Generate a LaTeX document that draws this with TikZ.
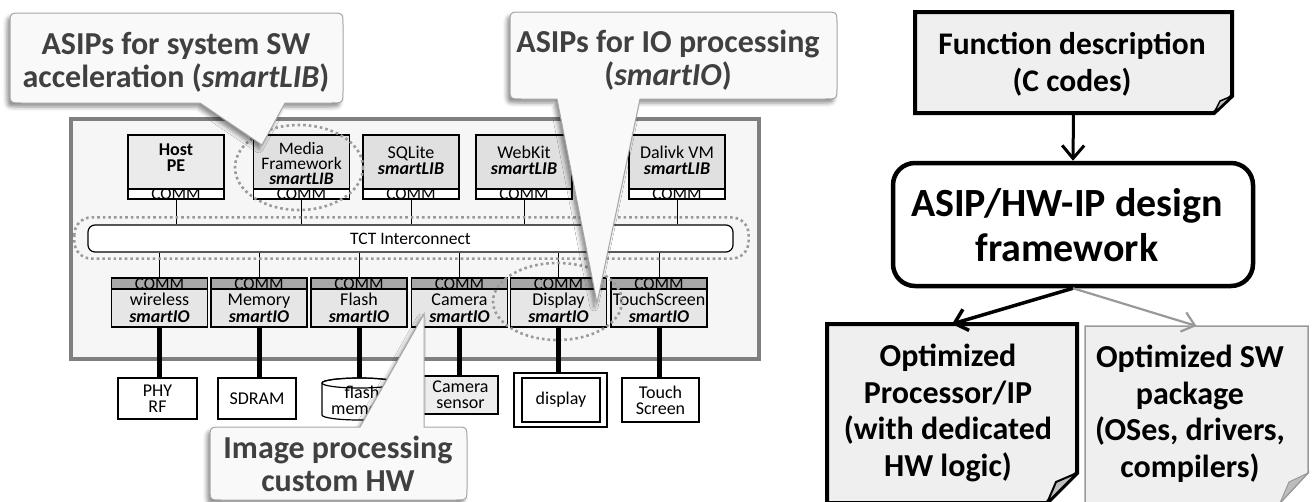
\documentclass[tikz,border=0pt]{standalone}
\usepackage{fontspec}
\setmainfont{Carlito}
\usetikzlibrary{arrows.meta,shadows.blur}
\definecolor{chipgray}{HTML}{7F7F7F}
\definecolor{chipfill}{HTML}{F6F6F6}
\definecolor{libfill}{HTML}{E0E0E0}
\definecolor{hostfill}{HTML}{EBEBEB}
\definecolor{iofill}{HTML}{E6E6E6}
\definecolor{commdark}{HTML}{A8A8A8}
\definecolor{dotgray}{HTML}{9A9A9A}
\definecolor{calltxt}{HTML}{404040}
\definecolor{callborder}{HTML}{A6A6A6}
\definecolor{callfill}{HTML}{F9F9F9}
\definecolor{notefill}{HTML}{EFEFEF}
\definecolor{foldfill}{HTML}{BDBDBD}
\definecolor{swgray}{HTML}{999999}
\newcommand\fntS{\fontsize{18}{16}\selectfont}
\newcommand\fntSB{\fontsize{18}{17}\selectfont}
\newcommand\fntC{\fontsize{17}{17}\selectfont}
\newcommand\fntIC{\fontsize{17.5}{17.5}\selectfont}
\newcommand\fntCall{\fontsize{32}{33}\selectfont\bfseries}
\newcommand\fntFunc{\fontsize{31.5}{37}\selectfont\bfseries}
\newcommand\fntAsip{\fontsize{40}{45}\selectfont\bfseries}
\newcommand\fntOpt{\fontsize{32}{36.5}\selectfont\bfseries}
\newcommand\bi[1]{\textbf{\textit{#1}}}
\begin{document}
\begin{tikzpicture}[x=1pt,y=-1pt,
  libbox/.style={draw, line width=1.2pt, fill=libfill, minimum width=96pt, minimum height=54pt, inner sep=0pt, outer sep=0pt},
  commw/.style={draw, line width=1.2pt, fill=white, minimum width=96pt, minimum height=10pt, inner sep=0pt, outer sep=0pt, label={[font=\fntC, inner sep=0pt, yshift=-0.5pt]center:COMM}},
  commd/.style={draw, line width=1.2pt, fill=commdark, minimum width=96pt, minimum height=11pt, inner sep=0pt, outer sep=0pt, label={[font=\fntC, inner sep=0pt, yshift=-0.5pt]center:COMM}},
  iobox/.style={draw, line width=1.2pt, fill=iofill, minimum width=96pt, minimum height=38pt, inner sep=0pt, outer sep=0pt, align=center, font=\fntSB},
  lbl/.style={align=center, font=\fntS, inner sep=0pt},
  dev/.style={draw, line width=1.2pt, fill=white, align=center, font=\fntS, inner sep=0pt, outer sep=0pt},
  wire/.style={line width=1pt},
  iolink/.style={line width=5pt},
  dotring/.style={draw=dotgray, line width=2.6pt, dash pattern=on 2.6pt off 3pt},
  callout/.style={draw=callborder, line width=1pt, fill=callfill, blur shadow={shadow xshift=-3pt, shadow yshift=-4pt, shadow blur radius=4pt, shadow opacity=45}},
  calltext/.style={align=center, text=calltxt, font=\fntCall, inner sep=0pt},
  notebox/.style={minimum width=#1, inner sep=0pt, outer sep=0pt},
  notetext/.style={align=center, inner sep=0pt}
]
\useasboundingbox (0,0) rectangle (1314,501);

% chip
\draw[line width=4pt, draw=chipgray, fill=chipfill] (71,119) rectangle (759,359);

% interconnect
\node[draw, line width=1.2pt, rounded corners=7pt, fill=white, minimum width=645pt, minimum height=27pt, inner sep=0pt, font=\fntIC] (ic) at (410.5,238.5) {TCT Interconnect};

% top boxes
\node[libbox, fill=hostfill] (hostB) at (176,162) {};
\node[commw] (hostC) at (176,194) {};
\node[lbl] (hostL) at (176,158) {\textbf{Host}\\\textbf{PE}};
\node[libbox] (medB) at (301.5,162) {};
\node[commw] (medC) at (301.5,194) {};
\node[lbl, font=\fontsize{17.5}{15}\selectfont] (medL) at (301.5,163.5) {Media\\Framework\\\bi{smartLIB}};
\node[libbox] (sqlB) at (411,162) {};
\node[commw] (sqlC) at (411,194) {};
\node[lbl] (sqlL) at (411,160) {SQLite\\\bi{smartLIB}};
\node[libbox] (webB) at (524,162) {};
\node[commw] (webC) at (524,194) {};
\node[lbl] (webL) at (524,160) {WebKit\\\bi{smartLIB}};
\node[libbox] (dalB) at (677,162) {};
\node[commw] (dalC) at (677,194) {};
\node[lbl] (dalL) at (677,160) {Dalivk VM\\\bi{smartLIB}};

\foreach \n in {hostC,medC,sqlC,webC,dalC}
  \draw[wire] (\n.south) -- (\n.south |- ic.north);

% io boxes
\node[commd] (wlC) at (159.5,283.5) {};
\node[iobox] (wlB) at (159.5,308) {wireless\\\bi{smartIO}};
\node[commd] (memC) at (259,283.5) {};
\node[iobox] (memB) at (259,308) {Memory\\\bi{smartIO}};
\node[commd] (flC) at (359,283.5) {};
\node[iobox] (flB) at (359,308) {Flash\\\bi{smartIO}};
\node[commd] (camC) at (459.5,283.5) {};
\node[iobox] (camB) at (459.5,308) {Camera\\\bi{smartIO}};
\node[commd] (dspC) at (558.5,283.5) {};
\node[iobox] (dspB) at (558.5,308) {Display\\\bi{smartIO}};
\node[commd] (tsC) at (659,283.5) {};
\node[iobox] (tsB) at (659,308) {TouchScreen\\\bi{smartIO}};

\foreach \n in {wlC,memC,flC,camC,dspC,tsC}
  \draw[wire] (ic.south -| \n.north) -- (\n.north);

% dotted rings
\draw[dotring, rounded corners=17pt] ([xshift=-13pt,yshift=7pt]ic.north west) rectangle ([xshift=15pt,yshift=-6pt]ic.south east);
\draw[dotring] (299,167.5) ellipse [x radius=64, y radius=42.5];
\draw[dotring] (557.5,301.5) ellipse [x radius=64.5, y radius=38.5];

% devices
\node[dev, minimum width=79pt, minimum height=41pt] (phy) at (157.5,398.5) {PHY\\RF};
\node[dev, minimum width=78pt, minimum height=41pt] (sdram) at (257,398.5) {SDRAM};
\draw[line width=1.2pt, fill=white] (322,383) -- (322,415) arc[start angle=180, end angle=0, x radius=37.5, y radius=5] -- (397,383) arc[start angle=0, end angle=-180, x radius=37.5, y radius=5] -- cycle;
\draw[line width=1.2pt] (359.5,383) ellipse [x radius=37.5, y radius=5];
\coordinate (flashtop) at (359,378);
\node[lbl] (flashL) at (362,402) {flash\\memory};
\node[dev, fill=iofill!70, minimum width=75pt, minimum height=38pt] (cam) at (460.5,395) {Camera\\sensor};
\node[dev, minimum width=93pt, minimum height=54pt] (dispO) at (560.5,400) {};
\node[dev, minimum width=78pt, minimum height=44pt] (dispI) at (561,400) {display};
\node[dev, minimum width=77pt, minimum height=44pt] (touch) at (660.5,400) {Touch\\Screen};

\draw[iolink] (wlB.south) -- (wlB.south |- phy.north);
\draw[iolink] (memB.south) -- (memB.south |- sdram.north);
\draw[iolink] (flB.south) -- (flB.south |- flashtop);
\draw[iolink] (camB.south) -- (camB.south |- cam.north);
\draw[iolink] (dspB.south) -- (dspB.south |- dispO.north);
\draw[iolink] (tsB.south) -- (tsB.south |- touch.north);

% callouts
\path[callout] (22,13) -- (331,13) .. controls (343,13) .. (343,25) -- (343,91) .. controls (343,103) .. (331,103) -- (285,103) -- (262,145) -- (200,103) -- (22,103) .. controls (10,103) .. (10,91) -- (10,25) .. controls (10,13) .. (22,13) -- cycle;
\node[calltext] (call1) at (176,62) {ASIPs for system SW\\acceleration (\textit{smartLIB})};

\path[callout] (522,12) -- (825,12) .. controls (837,12) .. (837,24) -- (837,87) .. controls (837,99) .. (825,99) -- (640,99) -- (597,303) -- (557,99) -- (522,99) .. controls (510,99) .. (510,87) -- (510,24) .. controls (510,12) .. (522,12) -- cycle;
\node[calltext] (call2) at (668,60) {ASIPs for IO processing\\(\textit{smartIO})};

\path[callout] (222,427) -- (360,427) -- (424,314) -- (424,427) -- (455,427) .. controls (467,427) .. (467,439) -- (467,488) .. controls (467,500) .. (455,500) -- (222,500) .. controls (210,500) .. (210,488) -- (210,439) .. controls (210,427) .. (222,427) -- cycle;
\node[calltext] (call3) at (338,464) {Image processing\\custom HW};

% right side
\node[notebox=317pt, minimum height=101pt] (func) at (1073.5,62.5) {};
\draw[line width=4pt, fill=notefill, line join=miter] (func.north west) -- (func.north east) -- ([yshift=17pt]func.south east) -- ([xshift=-18pt]func.south east) -- (func.south west) -- cycle;
\draw[line width=1.5pt, fill=foldfill, line join=round] ([xshift=-18pt]func.south east) -- ([xshift=-12pt,yshift=12pt]func.south east) -- ([yshift=17pt]func.south east) -- cycle;
\node[notetext, font=\fntFunc] (funcT) at (1072,64) {Function description\\(C codes)};

\node[draw, line width=4.5pt, rounded corners=22pt, fill=white, minimum width=360pt, minimum height=123pt, inner sep=0pt] (asip) at (1073,224.5) {};
\node[notetext, font=\fntAsip] (asipT) at (1067,225) {ASIP/HW-IP design\\framework};

\draw[line width=3pt, -{Straight Barb[length=13pt,width=22pt]}] (func.south) -- (asip.north);

\node[notebox=250pt, minimum height=179pt] (optHW) at (952,413.5) {};
\draw[line width=4pt, fill=notefill, line join=miter] (optHW.north west) -- (optHW.north east) -- ([yshift=30pt]optHW.south east) -- ([xshift=-30pt]optHW.south east) -- (optHW.south west) -- cycle;
\draw[line width=2pt, fill=foldfill, line join=round] ([xshift=-30pt]optHW.south east) -- ([xshift=-21pt,yshift=21pt]optHW.south east) -- ([yshift=30pt]optHW.south east) -- cycle;
\node[notetext, font=\fntOpt] (optHWT) at (948,413) {Optimized\\Processor/IP\\(with dedicated\\HW logic)};

\node[notebox=223pt, minimum height=177pt] (optSW) at (1196.5,414.5) {};
\draw[line width=1.5pt, draw=swgray, fill=notefill, line join=miter] (optSW.north west) -- (optSW.north east) -- ([yshift=30pt]optSW.south east) -- ([xshift=-28pt]optSW.south east) -- (optSW.south west) -- cycle;
\draw[line width=1pt, draw=swgray, fill=foldfill] ([xshift=-28pt]optSW.south east) -- ([xshift=-19pt,yshift=21pt]optSW.south east) -- ([yshift=30pt]optSW.south east) -- cycle;
\node[notetext, font=\fntOpt] (optSWT) at (1190,414) {Optimized SW\\package\\(OSes, drivers,\\compilers)};

\draw[line width=3.5pt, -{Straight Barb[length=12pt,width=22pt]}] (asip.south) -- (optHW.north);
\draw[line width=2.2pt, draw=swgray, -{Straight Barb[length=12pt,width=20pt]}] (asip.south) -- (optSW.north);
\end{tikzpicture}
\end{document}
